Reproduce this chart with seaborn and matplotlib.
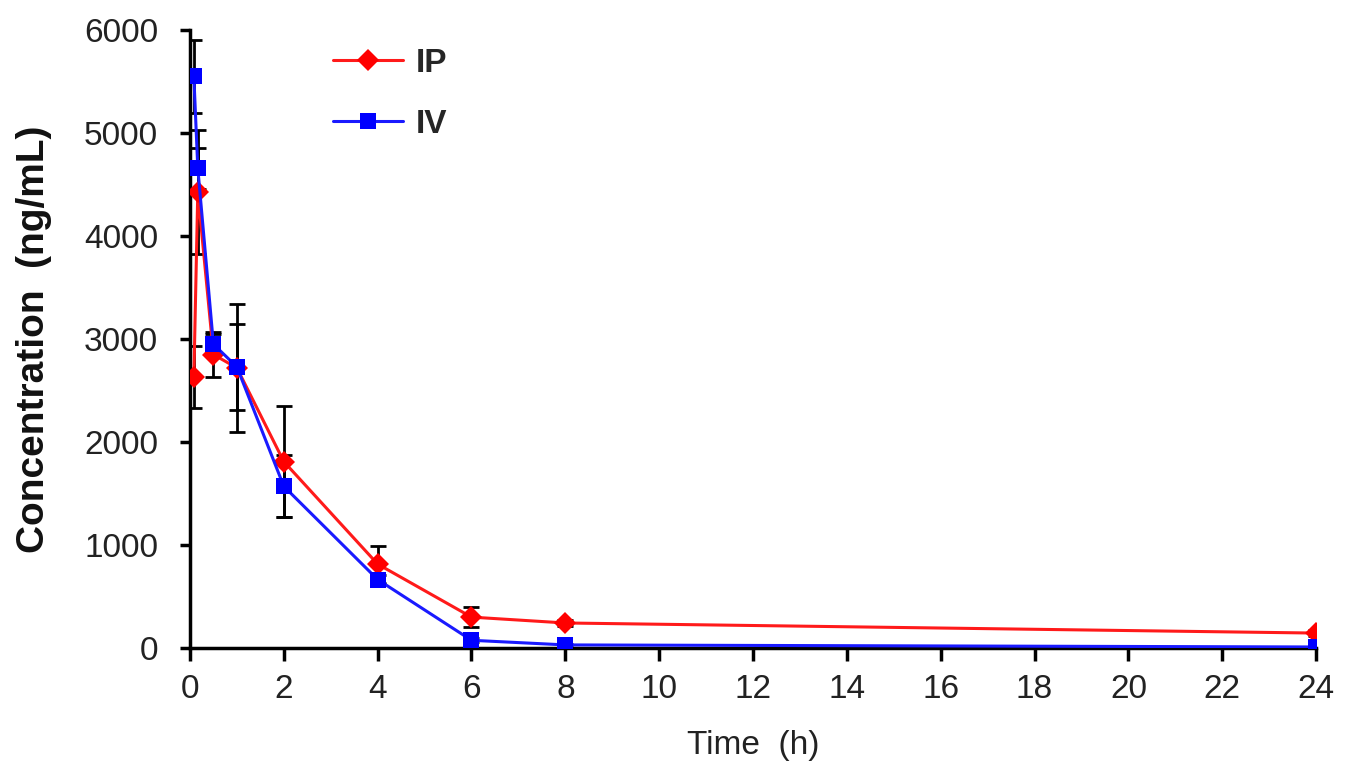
import numpy as np
import pandas as pd
import seaborn as sns
import matplotlib.pyplot as plt

# sampling times (h)
time_h = [0.083, 0.167, 0.5, 1, 2, 4, 6, 8, 24]

# mean concentrations (ng/mL)
ip_mean = [2630, 4430, 2850, 2720, 1810, 815, 300, 243, 145]
iv_mean = [5550, 4660, 2950, 2730, 1570, 665, 75, 30, 10]

# standard deviations
ip_sd = [300, 600, 220, 620, 540, 180, 100, 30, 25]
iv_sd = [350, 200, 100, 420, 300, 40, 20, 10, 5]

df = pd.DataFrame({
    "Time (h)": time_h * 2,
    "Concentration": ip_mean + iv_mean,
    "Route": ["IP"] * len(time_h) + ["IV"] * len(time_h),
})

sns.set_style("ticks")
plt.rcParams["font.family"] = ["Liberation Sans", "DejaVu Sans"]

fig = plt.figure(figsize=(13.53, 7.73), dpi=100)
ax = fig.add_axes([0.1404, 0.1617, 0.8323, 0.7993])

# error bars first, behind the lines
for mean, sd in [(ip_mean, ip_sd), (iv_mean, iv_sd)]:
    ax.errorbar(time_h, mean, yerr=sd, fmt="none", ecolor="black",
                elinewidth=2, capsize=6, capthick=2, zorder=1)

palette = {"IP": "#ff1a1a", "IV": "#1a1aff"}
sns.lineplot(data=df, x="Time (h)", y="Concentration", hue="Route",
             style="Route", markers={"IP": "D", "IV": "s"}, dashes=False,
             palette=palette, markersize=11, linewidth=2.2,
             markeredgewidth=0, ax=ax, zorder=3)

# marker colours fully saturated
for line in ax.get_lines():
    if line.get_color() == "#ff1a1a":
        line.set_markerfacecolor("#ff0000")
    elif line.get_color() == "#1a1aff":
        line.set_markerfacecolor("#0000ff")

ax.set_xlim(0, 24)
ax.set_ylim(0, 6000)
ax.set_xticks(np.arange(0, 25, 2))
ax.set_yticks(np.arange(0, 6001, 1000))
ax.tick_params(axis="both", labelsize=24, width=2.5, color="black",
               labelcolor="#222222")
ax.tick_params(axis="y", length=7, pad=16)
ax.tick_params(axis="x", length=9, pad=10)
for side in ["left", "bottom"]:
    ax.spines[side].set_linewidth(2.5)
    ax.spines[side].set_color("black")
sns.despine(ax=ax)

ax.set_xlabel("Time  (h)", fontsize=24, color="#222222", labelpad=18)
ax.set_ylabel("Concentration  (ng/mL)", fontsize=28, fontweight="bold",
              color="#111111", labelpad=23)

leg = ax.legend(loc="upper left", bbox_to_anchor=(0.1, 1.02), frameon=False,
                handlelength=2.1, labelspacing=0.9, handletextpad=0.4,
                prop={"weight": "bold", "size": 24})

plt.savefig("out.png", dpi=100)
